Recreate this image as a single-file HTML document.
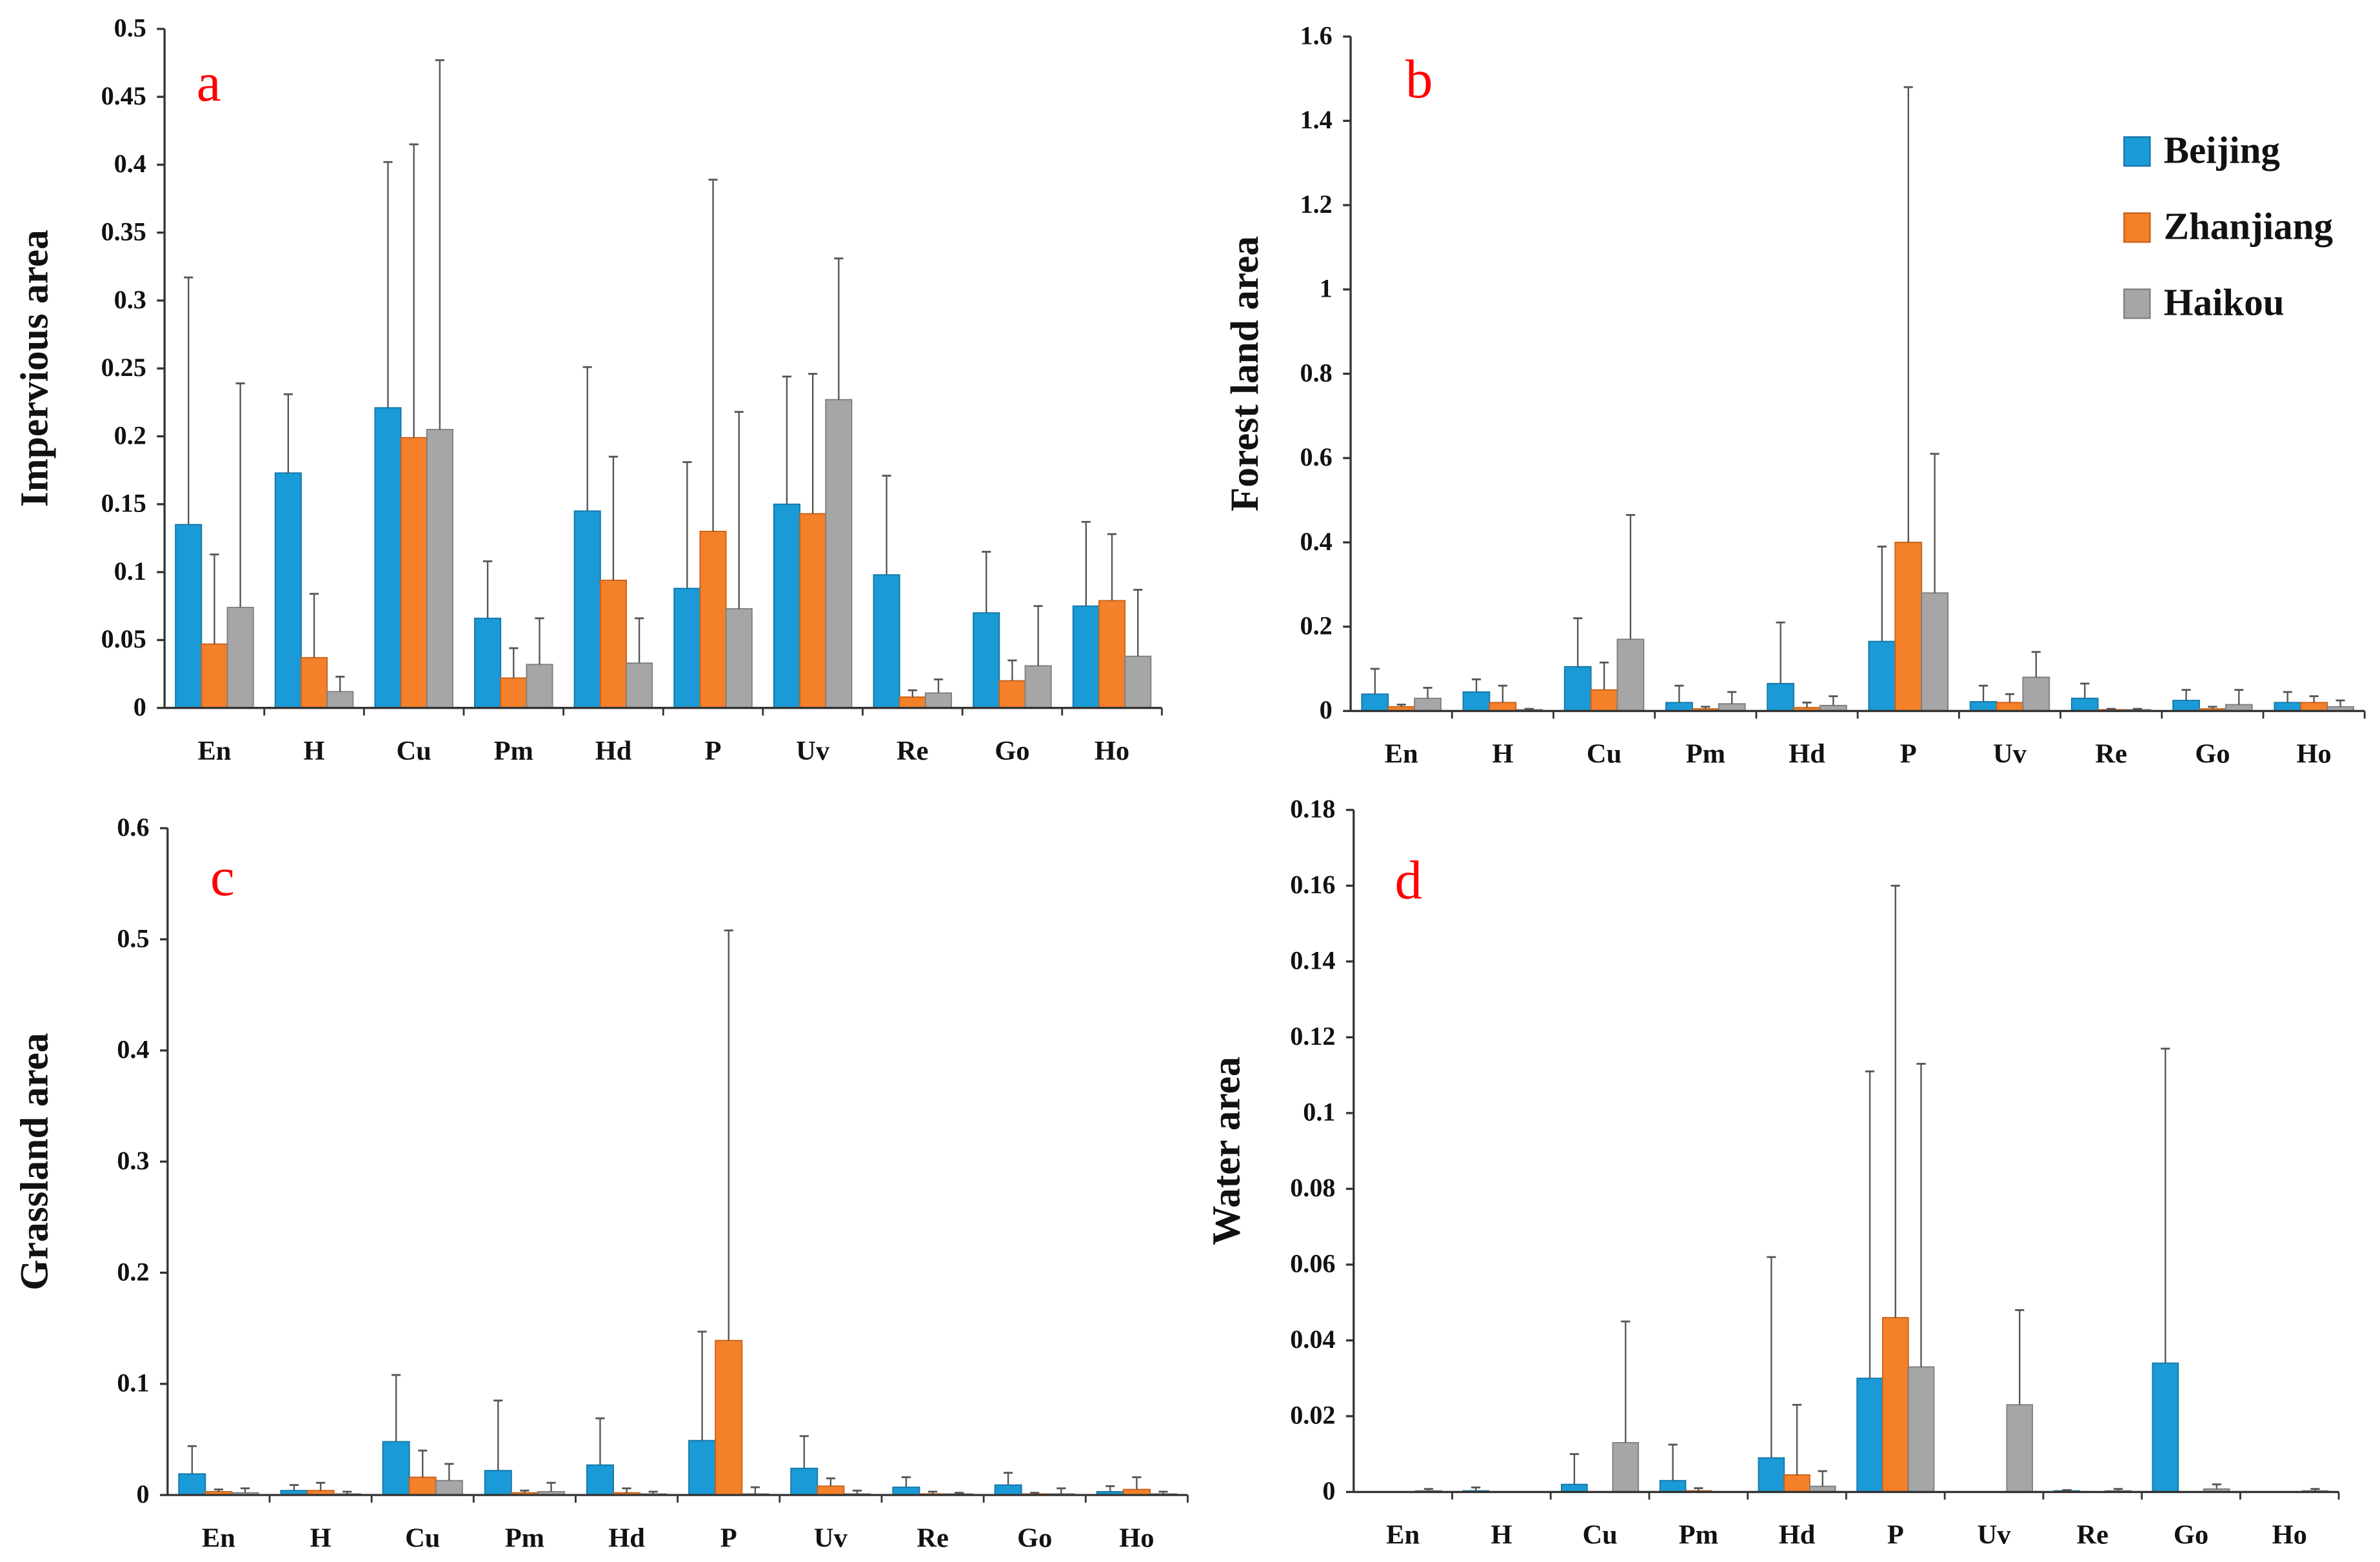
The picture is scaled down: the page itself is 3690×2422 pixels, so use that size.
<!DOCTYPE html>
<html><head><meta charset="utf-8"><style>
html,body{margin:0;padding:0;background:#fff}
svg{display:block}
text{font-family:"Liberation Serif","Times New Roman",serif}
</style></head><body>
<svg id="fig" width="3690" height="2422" viewBox="0 0 1563 1026" xmlns="http://www.w3.org/2000/svg"></svg>
<script>
const categories=["En","H","Cu","Pm","Hd","P","Uv","Re","Go","Ho"];
const seriesNames=["Beijing","Zhanjiang","Haikou"];
// panel a
const aBeijing=[0.135,0.173,0.221,0.066,0.145,0.088,0.150,0.098,0.070,0.075];
const aZhanjiang=[0.047,0.037,0.199,0.022,0.094,0.130,0.143,0.008,0.020,0.079];
const aHaikou=[0.074,0.012,0.205,0.032,0.033,0.073,0.227,0.011,0.031,0.038];
const aBeijingErr=[0.317,0.231,0.402,0.108,0.251,0.181,0.244,0.171,0.115,0.137];
const aZhanjiangErr=[0.113,0.084,0.415,0.044,0.185,0.389,0.246,0.013,0.035,0.128];
const aHaikouErr=[0.239,0.023,0.477,0.066,0.066,0.218,0.331,0.021,0.075,0.087];
const aTicks=["0","0.05","0.1","0.15","0.2","0.25","0.3","0.35","0.4","0.45","0.5"];
// panel b
const bBeijing=[0.04,0.045,0.105,0.02,0.065,0.165,0.022,0.03,0.025,0.02];
const bZhanjiang=[0.01,0.02,0.05,0.005,0.008,0.40,0.02,0.003,0.005,0.02];
const bHaikou=[0.03,0.003,0.17,0.017,0.013,0.28,0.08,0.003,0.015,0.01];
const bBeijingErr=[0.10,0.075,0.22,0.06,0.21,0.39,0.06,0.065,0.05,0.045];
const bZhanjiangErr=[0.015,0.06,0.115,0.01,0.02,1.48,0.04,0.005,0.01,0.035];
const bHaikouErr=[0.055,0.005,0.465,0.045,0.035,0.61,0.14,0.005,0.05,0.025];
const bTicks=["0","0.2","0.4","0.6","0.8","1","1.2","1.4","1.6"];
// panel c
const cBeijing=[0.019,0.004,0.048,0.022,0.027,0.049,0.024,0.007,0.009,0.003];
const cZhanjiang=[0.003,0.004,0.016,0.002,0.002,0.139,0.008,0.001,0.001,0.005];
const cHaikou=[0.002,0.001,0.013,0.003,0.001,0.001,0.001,0.001,0.001,0.001];
const cBeijingErr=[0.044,0.009,0.108,0.085,0.069,0.147,0.053,0.016,0.020,0.008];
const cZhanjiangErr=[0.005,0.011,0.040,0.004,0.006,0.508,0.015,0.003,0.002,0.016];
const cHaikouErr=[0.006,0.003,0.028,0.011,0.003,0.007,0.004,0.002,0.006,0.003];
const cTicks=["0","0.1","0.2","0.3","0.4","0.5","0.6"];
// panel d
const dBeijing=[0,0.0003,0.002,0.003,0.009,0.030,0,0.0003,0.034,0];
const dZhanjiang=[0,0,0,0.0003,0.0045,0.046,0,0,0,0];
const dHaikou=[0.0003,0,0.013,0,0.0015,0.033,0.023,0.0003,0.0008,0.0003];
const dBeijingErr=[0,0.0012,0.010,0.0125,0.062,0.111,0,0.0005,0.117,0];
const dZhanjiangErr=[0,0,0,0.001,0.023,0.160,0,0,0.0,0];
const dHaikouErr=[0.0008,0,0.045,0,0.0055,0.113,0.048,0.0008,0.002,0.0008];
const dTicks=["0","0.02","0.04","0.06","0.08","0.1","0.12","0.14","0.16","0.18"];

const NS="http://www.w3.org/2000/svg";
const svg=document.getElementById('fig');
const fills=["#1a9ad6","#f5802a","#a6a6a6"];
const strokes=["#1478a8","#c8621a","#7f7f7f"];
function mk(tag,attrs,parent){const e=document.createElementNS(NS,tag);for(const k in attrs)e.setAttribute(k,attrs[k]);(parent||svg).appendChild(e);return e;}

function panel(id,box,ticks,vals,errs,title,letter,letterPos,titleX){
  const g=mk('g',{});
  
  
  const x0=box.x0,x1=box.x1,yTop=box.yTop,y0=box.y0;
  const maxV=parseFloat(ticks[ticks.length-1]);
  const yS=v=>y0-(v/maxV)*(y0-yTop);
  const gw=(x1-x0)/categories.length;
  const bw=gw*0.26;
  const ya=mk('line',{x1:x0,y1:yTop,x2:x0,y2:y0,stroke:'#333','stroke-width':1.4},g);
  
  
  ticks.forEach(t=>{
    const y=yS(parseFloat(t));
    mk('line',{x1:x0-5,y1:y,x2:x0,y2:y,stroke:'#333','stroke-width':1.4},g);
    const tx=mk('text',{x:x0-12,y:y+5,'text-anchor':'end','font-size':17,'font-weight':'bold',fill:'#111'},g);
    tx.textContent=t;
    
    
  });
  categories.forEach((c,i)=>{
    const cx=x0+gw*(i+0.5);
    vals.forEach((s,k)=>{
      const bx=cx-1.5*bw+k*bw;
      const top=yS(s[i]);
      const r=mk('rect',{x:bx,y:top,width:bw,height:Math.max(0,y0-top),fill:fills[k],stroke:strokes[k],'stroke-width':0.8},g);
      
      
      const e=errs[k][i];
      if(e>s[i]){
        const ex=bx+bw/2, ey=yS(e);
        const el=mk('line',{x1:ex,y1:top,x2:ex,y2:ey,stroke:'#555','stroke-width':1},g);
        
        
        mk('line',{x1:ex-3,y1:ey,x2:ex+3,y2:ey,stroke:'#555','stroke-width':1.2},g);
      }
    });
    const lb=mk('text',{x:cx,y:y0+34,'text-anchor':'middle','font-size':18,'font-weight':'bold',fill:'#111'},g);
    lb.textContent=c;
    
    
  });
  const xa=mk('line',{x1:x0,y1:y0,x2:x1,y2:y0,stroke:'#333','stroke-width':1.4},g);
  
  
  for(let i=1;i<=categories.length;i++){const x=x0+gw*i;mk('line',{x1:x,y1:y0,x2:x,y2:y0+5,stroke:'#333','stroke-width':1.2},g);}
  const yc=(yTop+y0)/2;
  const tt=mk('text',{x:titleX,y:yc,'text-anchor':'middle','font-size':26,'font-weight':'bold',fill:'#111',transform:'rotate(-90 '+titleX+' '+yc+')'},g);
  tt.textContent=title;
  
  
  const lt=mk('text',{x:letterPos[0],y:letterPos[1],'text-anchor':'middle','font-size':36,fill:'#ff0000'},g);
  lt.textContent=letter;
  
  
}

panel('a',{x0:108,x1:763,yTop:19,y0:465},aTicks,[aBeijing,aZhanjiang,aHaikou],[aBeijingErr,aZhanjiangErr,aHaikouErr],'Impervious area','a',[137,66],31);
panel('b',{x0:887,x1:1553,yTop:24,y0:467},bTicks,[bBeijing,bZhanjiang,bHaikou],[bBeijingErr,bZhanjiangErr,bHaikouErr],'Forest land area','b',[932,64],826);
panel('c',{x0:110,x1:780,yTop:544,y0:982},cTicks,[cBeijing,cZhanjiang,cHaikou],[cBeijingErr,cZhanjiangErr,cHaikouErr],'Grassland area','c',[146,588],31);
panel('d',{x0:889,x1:1536,yTop:532,y0:980},dTicks,[dBeijing,dZhanjiang,dHaikou],[dBeijingErr,dZhanjiangErr,dHaikouErr],'Water area','d',[925,590],814);

const lg=mk('g',{});


seriesNames.forEach((n,k)=>{
  const y=90+k*50;
  mk('rect',{x:1395,y:y,width:17,height:19,fill:fills[k],stroke:strokes[k],'stroke-width':1},lg);
  const t=mk('text',{x:1421,y:y+17,'font-size':25,'font-weight':'bold',fill:'#111'},lg);
  t.textContent=n;
  
  
});
</script>
</body></html>
